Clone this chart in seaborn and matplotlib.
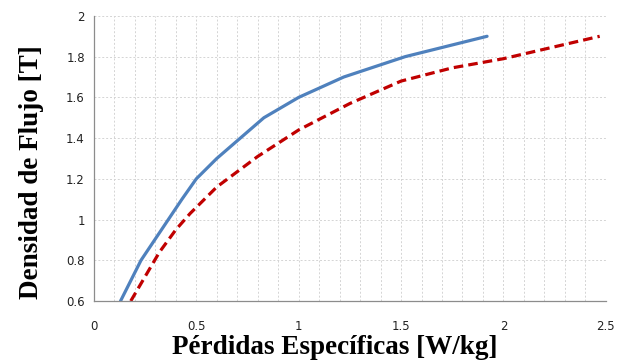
import numpy as np
import pandas as pd
import matplotlib
matplotlib.use("Agg")
import matplotlib.pyplot as plt
from matplotlib.ticker import MultipleLocator
import seaborn as sns

# Curva 1 (continua, azul)
perdidas_a = [0.13, 0.23, 0.33, 0.43, 0.50, 0.60, 0.83, 1.00, 1.22, 1.52, 1.92]
flujo_a = [0.60, 0.80, 0.95, 1.10, 1.20, 1.30, 1.50, 1.60, 1.70, 1.80, 1.90]

# Curva 2 (discontinua, roja)
perdidas_b = [0.18, 0.25, 0.32, 0.40, 0.47, 0.60, 0.80, 1.00, 1.25, 1.50, 1.75, 2.00, 2.47]
flujo_b = [0.60, 0.72, 0.84, 0.95, 1.03, 1.16, 1.31, 1.44, 1.57, 1.68, 1.745, 1.79, 1.90]

xticks = [0, 0.5, 1, 1.5, 2, 2.5]
yticks = [0.6, 0.8, 1, 1.2, 1.4, 1.6, 1.8, 2]

df_a = pd.DataFrame({"x": perdidas_a, "y": flujo_a})
df_b = pd.DataFrame({"x": perdidas_b, "y": flujo_b})

sns.set_theme(style="white")
fig = plt.figure(figsize=(6.22, 3.62), dpi=100)
ax = fig.add_axes([0.151, 0.1685, 0.823, 0.7875])

sns.lineplot(data=df_a, x="x", y="y", ax=ax, sort=False, estimator=None,
             color="#4F81BD", linewidth=2.3)
sns.lineplot(data=df_b, x="x", y="y", ax=ax, sort=False, estimator=None,
             color="#C00000", linewidth=2.3, linestyle=(0, (3, 1.6)))

ax.set_xlim(0, 2.5)
ax.set_ylim(0.6, 2)
ax.set_xticks(xticks)
ax.set_xticklabels([f"{t:g}" for t in xticks])
ax.set_yticks(yticks)
ax.set_yticklabels([f"{t:g}" for t in yticks])
ax.xaxis.set_minor_locator(MultipleLocator(0.1))

ax.grid(True, which="major", color="#d4d4d4", linestyle=(0, (2, 2)), linewidth=0.7)
ax.grid(True, which="minor", axis="x", color="#d4d4d4", linestyle=(0, (2, 2)), linewidth=0.7)
ax.set_axisbelow(True)

for s in ["top", "right"]:
    ax.spines[s].set_visible(False)
for s in ["left", "bottom"]:
    ax.spines[s].set_color("#8c8c8c")
    ax.spines[s].set_linewidth(0.9)

ax.tick_params(axis="both", which="major", direction="out", length=3.5, width=0.8,
               color="#8c8c8c", labelsize=8.5, labelcolor="#222222")
ax.tick_params(axis="x", which="major", pad=10)
ax.tick_params(axis="x", which="minor", length=0)
ax.tick_params(axis="y", pad=3)

lab_font = dict(family="Liberation Serif", fontsize=19.5, fontweight="bold", color="black")
ax.set_xlabel("Pérdidas Específicas [W/kg]", **lab_font)
ax.set_ylabel("Densidad de Flujo [T]", **lab_font)
ax.xaxis.set_label_coords(0.47, -0.12)
ax.yaxis.set_label_coords(-0.098, 0.453)

fig.savefig("out.png", dpi=100)
